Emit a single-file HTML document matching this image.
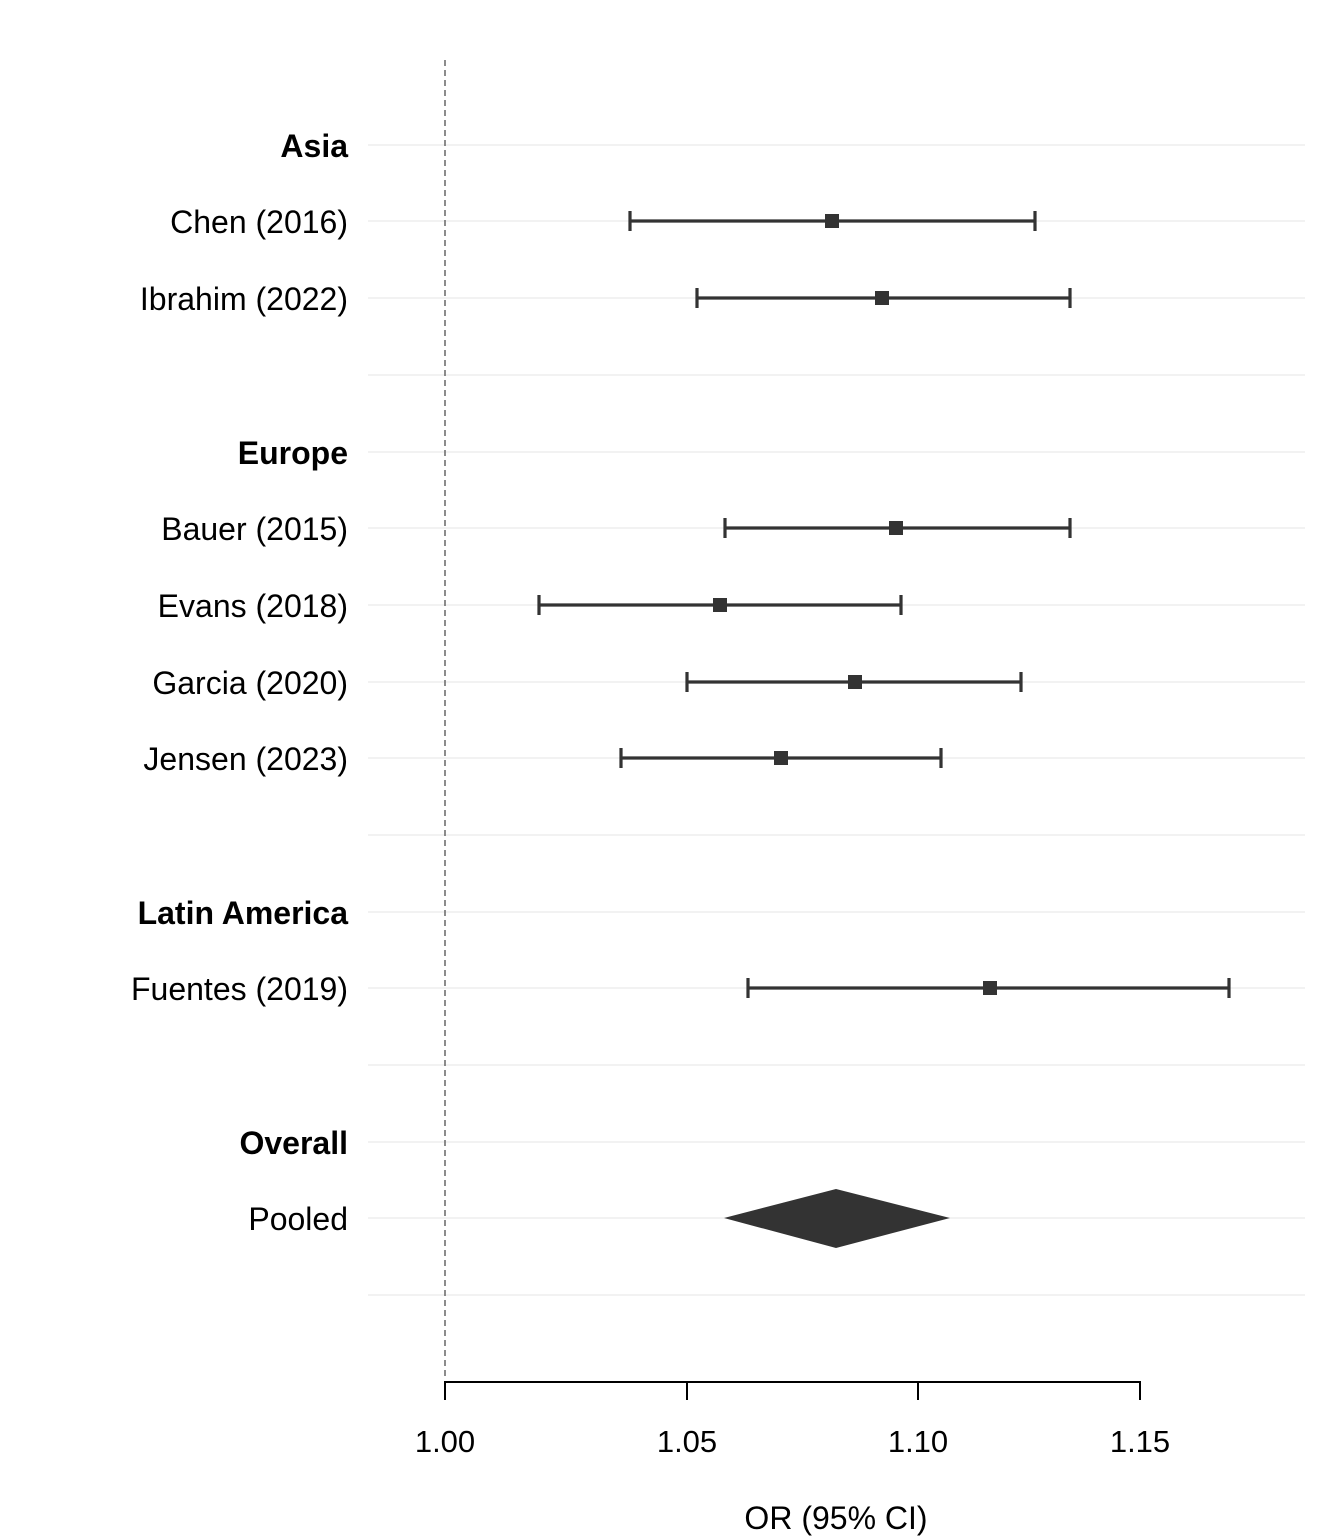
<!DOCTYPE html>
<html><head><meta charset="utf-8"><style>body{margin:0;background:#fff}svg{display:block}text{font-family:"Liberation Sans",Arial,sans-serif;fill:#000}</style></head>
<body>
<svg width="1344" height="1536" viewBox="0 0 1344 1536">
<g stroke="#ebebeb" stroke-width="1.2">
<line x1="368" x2="1305" y1="145" y2="145"/><line x1="368" x2="1305" y1="221" y2="221"/><line x1="368" x2="1305" y1="298" y2="298"/><line x1="368" x2="1305" y1="375" y2="375"/><line x1="368" x2="1305" y1="452" y2="452"/><line x1="368" x2="1305" y1="528" y2="528"/><line x1="368" x2="1305" y1="605" y2="605"/><line x1="368" x2="1305" y1="682" y2="682"/><line x1="368" x2="1305" y1="758" y2="758"/><line x1="368" x2="1305" y1="835" y2="835"/><line x1="368" x2="1305" y1="912" y2="912"/><line x1="368" x2="1305" y1="988" y2="988"/><line x1="368" x2="1305" y1="1065" y2="1065"/><line x1="368" x2="1305" y1="1142" y2="1142"/><line x1="368" x2="1305" y1="1218" y2="1218"/><line x1="368" x2="1305" y1="1295" y2="1295"/>
</g>
<line x1="445" x2="445" y1="60" y2="1380" stroke="#666" stroke-width="1.5" stroke-dasharray="6,4"/>
<g stroke="#333" stroke-width="3.2" fill="none">
<path d="M630 221H1035M630 211V231M1035 211V231"/>
<path d="M697 298H1070M697 288V308M1070 288V308"/>
<path d="M725 528H1070M725 518V538M1070 518V538"/>
<path d="M539 605H901M539 595V615M901 595V615"/>
<path d="M687 682H1021M687 672V692M1021 672V692"/>
<path d="M621 758H941M621 748V768M941 748V768"/>
<path d="M748 988H1229M748 978V998M1229 978V998"/>
</g>
<g fill="#333">
<rect x="825" y="214" width="14" height="14"/><rect x="875" y="291" width="14" height="14"/><rect x="889" y="521" width="14" height="14"/><rect x="713" y="598" width="14" height="14"/><rect x="848" y="675" width="14" height="14"/><rect x="774" y="751" width="14" height="14"/><rect x="983" y="981" width="14" height="14"/>
<polygon points="724,1218 836,1189 950,1218 836,1248"/>
</g>
<g font-size="32" text-anchor="end">
<text x="348" y="157" font-weight="bold">Asia</text>
<text x="348" y="233">Chen (2016)</text>
<text x="348" y="310">Ibrahim (2022)</text>
<text x="348" y="464" font-weight="bold">Europe</text>
<text x="348" y="540">Bauer (2015)</text>
<text x="348" y="617">Evans (2018)</text>
<text x="348" y="694">Garcia (2020)</text>
<text x="348" y="770">Jensen (2023)</text>
<text x="348" y="924" font-weight="bold">Latin America</text>
<text x="348" y="1000">Fuentes (2019)</text>
<text x="348" y="1154" font-weight="bold">Overall</text>
<text x="348" y="1230">Pooled</text>
</g>
<g stroke="#000" stroke-width="2">
<line x1="444" x2="1141" y1="1382" y2="1382"/>
<line x1="445" x2="445" y1="1382" y2="1400"/><line x1="687" x2="687" y1="1382" y2="1400"/><line x1="918" x2="918" y1="1382" y2="1400"/><line x1="1140" x2="1140" y1="1382" y2="1400"/>
</g>
<g font-size="31" text-anchor="middle">
<text x="445" y="1452">1.00</text><text x="687" y="1452">1.05</text><text x="918" y="1452">1.10</text><text x="1140" y="1452">1.15</text>
<text x="836" y="1529" font-size="32">OR (95% CI)</text>
</g>
</svg>
</body></html>
